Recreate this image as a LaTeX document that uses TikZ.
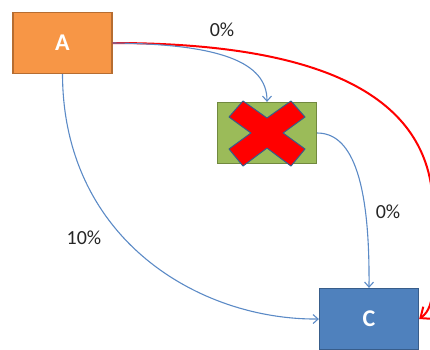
\documentclass[tikz,border=0pt]{standalone}
\usepackage{fontspec}
\setmainfont{Carlito}
\usepackage{tikz}
\usetikzlibrary{positioning, arrows.meta, calc}
\definecolor{BoxOrange}{HTML}{F79646}
\definecolor{BoxOrangeEdge}{HTML}{B66D31}
\definecolor{BoxGreen}{HTML}{9BBB59}
\definecolor{BoxGreenEdge}{HTML}{71893F}
\definecolor{BoxBlue}{HTML}{4F81BD}
\definecolor{BoxBlueEdge}{HTML}{385D8A}
\definecolor{FlowBlue}{HTML}{5B8AC6}
\definecolor{CrossRed}{HTML}{FF0000}

\begin{document}
\begin{tikzpicture}[
      x=1pt, y=-1pt,
      box/.style={rectangle, minimum width=99pt, minimum height=61pt, inner sep=0pt,
        line width=1.3pt, text=white, font=\fontsize{24}{28}\selectfont\bfseries},
      flow/.style={FlowBlue, line width=1.1pt, -{Straight Barb[length=5pt,width=9pt]}},
      cut/.style={CrossRed, line width=2pt, -{Straight Barb[length=9pt,width=15pt]}},
      share/.style={font=\fontsize{20}{24}\selectfont, text=black!85}
  ]
    \useasboundingbox (0,0) rectangle (430,349);
    \node[box, fill=BoxOrange, draw=BoxOrangeEdge](a) at (62.5,43){A};
    \node[box, fill=BoxGreen, draw=BoxGreenEdge](b) at (267,133){};
    \node[box, fill=BoxBlue, draw=BoxBlueEdge](c) at (369,319){C};

    % the cross over the blocked node
    \begin{scope}[shift={(b.center)}]
      \filldraw[fill=CrossRed, draw=BoxBlueEdge, line width=1pt, line join=round]
        (-24,-32) -- (0,-15) -- (24,-32) -- (38,-16) -- (16,0) -- (38,16)
        -- (24,33) -- (0,15) -- (-24,33) -- (-38,16) -- (-16,0) -- (-38,-16) -- cycle;
    \end{scope}

    \draw[cut] (a.east) .. controls (330,43) and (433,100) .. (433,210)
      .. controls (433,280) and (437,306) .. (c.east);
    \draw[flow] (a.east) .. controls (220,44) and (267,62) .. (b.north);
    \draw[flow] (a.south) .. controls (63,240) and (200,320) .. (c.west);
    \draw[flow] (b.east) .. controls (350,133) and (370,175) .. (c.north);

    \node[share](p1) at (222,30){0\%};
    \node[share](p2) at (388,212){0\%};
    \node[share](p3) at (84,238){10\%};
  \end{tikzpicture}
\end{document}
